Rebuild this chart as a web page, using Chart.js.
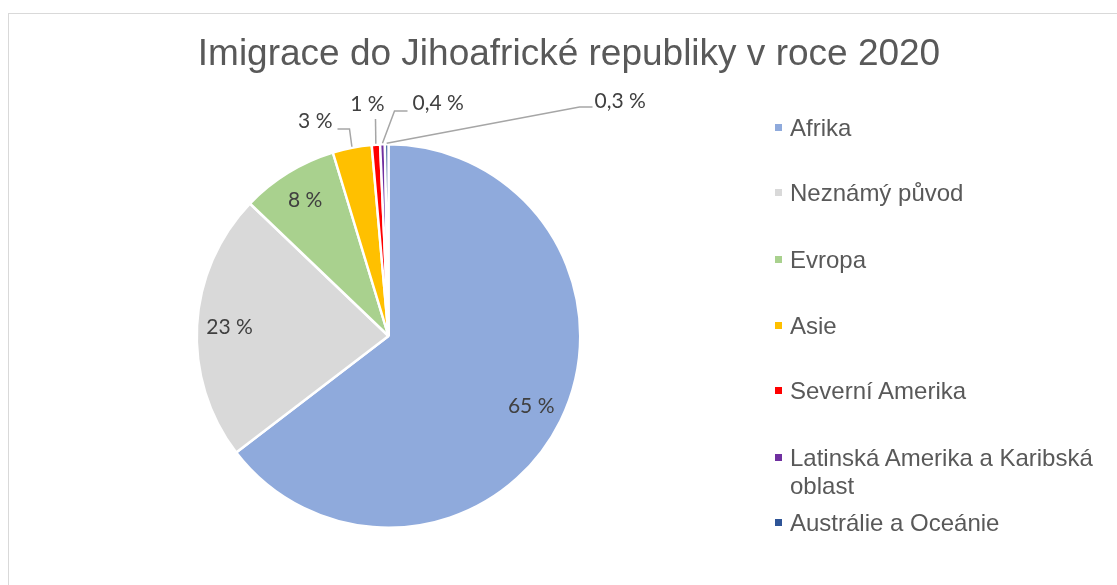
<!DOCTYPE html>
<html>
<head>
<meta charset="utf-8">
<script src="https://cdn.jsdelivr.net/npm/chart.js@4"></script>
<style>
  body { margin: 0; background: #fff; }
  #wrap { position: relative; width: 1117px; height: 585px; overflow: hidden; }
  #frame { position: absolute; left: 8px; top: 13px; width: 1200px; height: 700px; border: 1px solid #d9d9d9; }
  #title { position: absolute; left: 0; top: 32px; width: 1138px; text-align: center;
           font-family: "Liberation Sans", Arial, sans-serif; font-size: 37px; color: #595959; white-space: nowrap; }
  #legend { position: absolute; left: 775px; top: 0; font-family: "Liberation Sans", Arial, sans-serif;
            font-size: 24px; color: #595959; }
  .item { position: absolute; left: 0; white-space: nowrap; line-height: 28px; }
  .item i { position: absolute; left: 0; top: 10px; width: 7px; height: 7px; }
  .item span { position: absolute; left: 15px; top: 0; }
  canvas { position: absolute; left: 0; top: 0; }
</style>
</head>
<body>
<div id="wrap">
  <div id="frame"></div>
  <canvas id="chart" width="1117" height="585"></canvas>
  <div id="title">Imigrace do Jihoafrické republiky v roce 2020</div>
  <div id="legend"></div>
</div>
<script>
// Data
const regions = [
  "Afrika",
  "Neznámý původ",
  "Evropa",
  "Asie",
  "Severní Amerika",
  "Latinská Amerika a Karibská oblast",
  "Austrálie a Oceánie"
];
const shares = [64.8, 22.6, 8.2, 3.3, 0.7, 0.4, 0.3];
const shareLabels = ["65 %", "23 %", "8 %", "3 %", "1 %", "0,4 %", "0,3 %"];
const colors = ["#8faadc", "#d9d9d9", "#a9d18e", "#ffc000", "#ff0000", "#7030a0", "#2f5597"];

// legend (html so the long label can wrap like the original)
const legendY = [114, 179, 246, 312, 377, 444, 509];
const legendBox = document.getElementById("legend");
regions.forEach((r, i) => {
  const d = document.createElement("div");
  d.className = "item";
  d.style.top = legendY[i] + "px";
  const txt = i === 5 ? "Latinská Amerika a Karibská<br>oblast" : r;
  d.innerHTML = `<i style="background:${colors[i]}"></i><span>${txt}</span>`;
  legendBox.appendChild(d);
});

// where outside labels sit, relative to pie centre (px)
const outside = {
  3: { elbow: [-39, -207], end: [-51, -207], text: [-56, -215], align: "right" },
  4: { elbow: [-13, -217], end: [-13, -217], text: [-21, -232], align: "center" },
  5: { elbow: [6, -225], end: [19, -225], text: [24, -233], align: "left" },
  6: { elbow: [191, -229], end: [204, -229], text: [206, -235], align: "left" }
};

const labelPlugin = {
  id: "sliceLabels",
  afterDatasetsDraw(chart) {
    const ctx = chart.ctx;
    const meta = chart.getDatasetMeta(0);
    ctx.save();
    ctx.font = "21px Lato, 'Open Sans', sans-serif";
    ctx.fillStyle = "#404040";
    ctx.textBaseline = "middle";
    meta.data.forEach((arc, i) => {
      const p = arc.getProps(["x", "y", "startAngle", "endAngle", "outerRadius"], true);
      const mid = (p.startAngle + p.endAngle) / 2;
      const o = outside[i];
      if (!o) {
        const r = p.outerRadius * 0.83;
        ctx.textAlign = "center";
        ctx.fillText(shareLabels[i], p.x + Math.cos(mid) * r, p.y + Math.sin(mid) * r);
        return;
      }
      const ex = p.x + Math.cos(mid) * (p.outerRadius + 1);
      const ey = p.y + Math.sin(mid) * (p.outerRadius + 1);
      ctx.strokeStyle = "#a6a6a6";
      ctx.lineWidth = 1.5;
      ctx.beginPath();
      ctx.moveTo(ex, ey);
      ctx.lineTo(p.x + o.elbow[0], p.y + o.elbow[1]);
      ctx.lineTo(p.x + o.end[0], p.y + o.end[1]);
      ctx.stroke();
      ctx.textAlign = o.align;
      ctx.fillText(shareLabels[i], p.x + o.text[0], p.y + o.text[1]);
    });
    ctx.restore();
  }
};

new Chart(document.getElementById("chart"), {
  type: "pie",
  data: {
    labels: regions,
    datasets: [{
      data: shares,
      backgroundColor: colors,
      borderColor: "#ffffff",
      borderWidth: 2.5
    }]
  },
  options: {
    responsive: false,
    animation: false,
    layout: { padding: { left: 195, right: 535, top: 143, bottom: 56 } },
    plugins: {
      legend: { display: false },
      tooltip: { enabled: false }
    }
  },
  plugins: [labelPlugin]
});
</script>
</body>
</html>
